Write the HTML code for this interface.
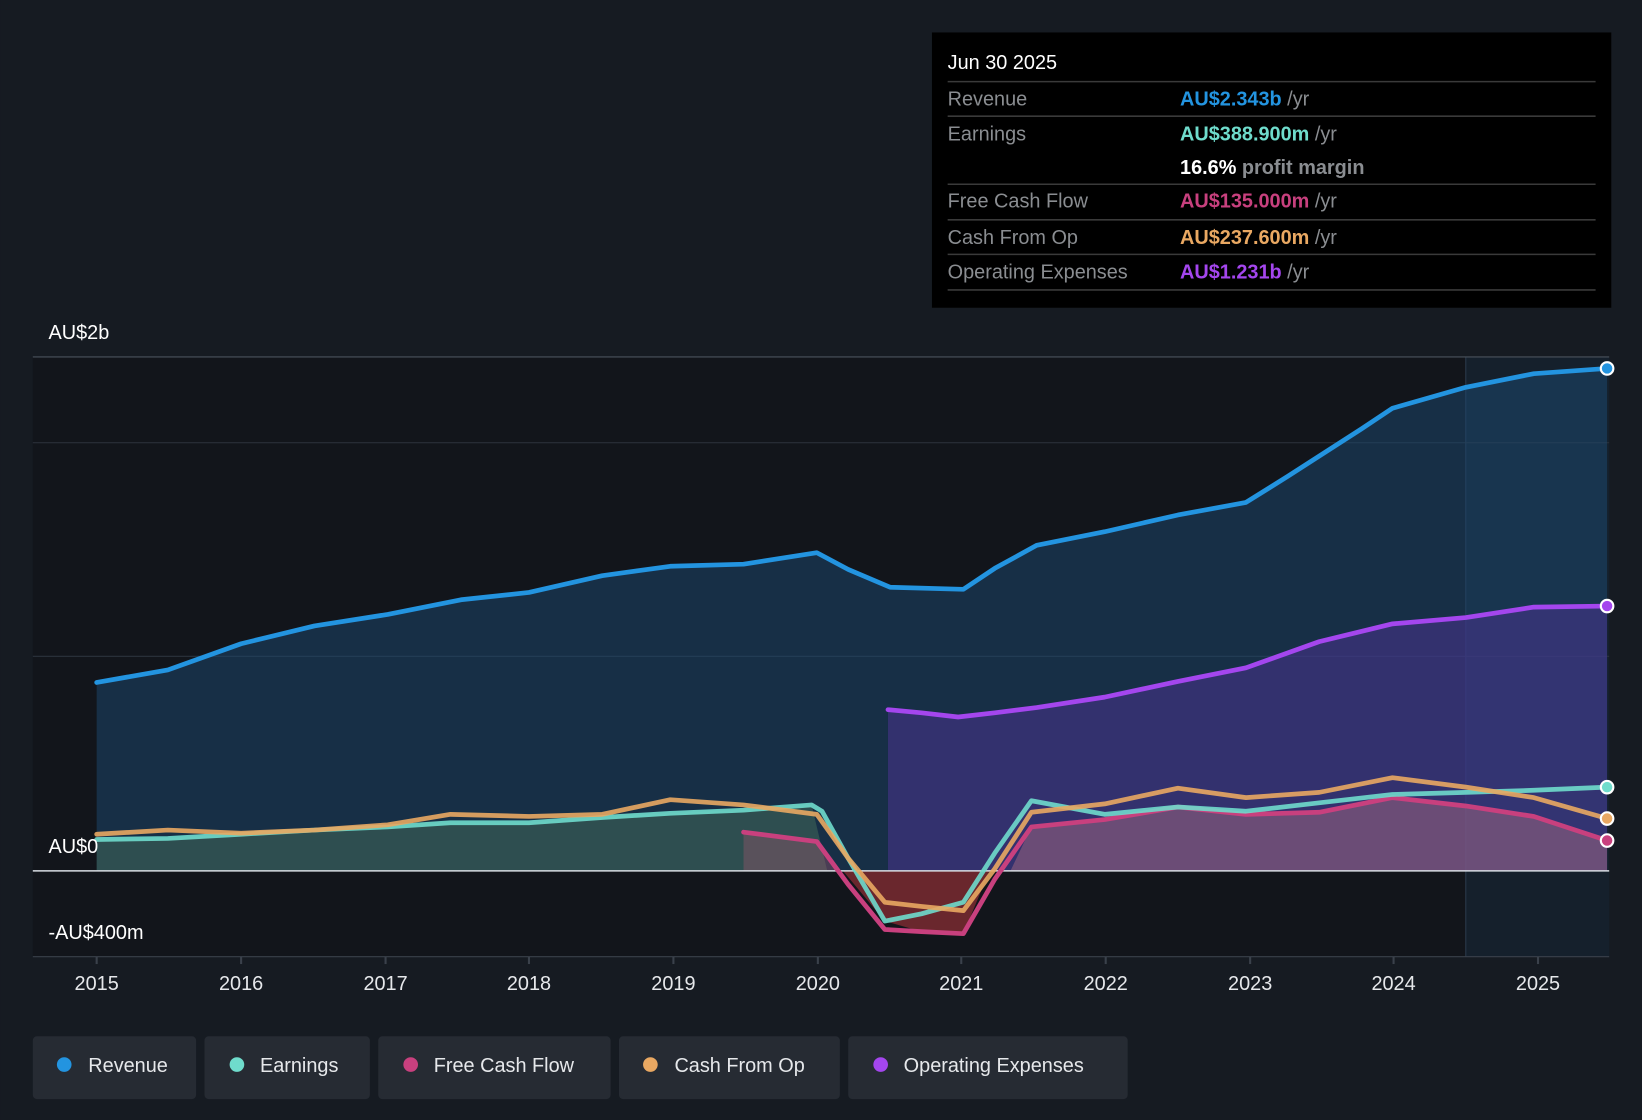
<!DOCTYPE html>
<html><head><meta charset="utf-8"><style>
html,body{margin:0;padding:0;background:#161b22;}
svg{display:block;font-family:"Liberation Sans",sans-serif;}
</style></head><body>
<svg width="1642" height="1120" viewBox="0 0 1568 1070" xmlns="http://www.w3.org/2000/svg">
<rect width="1568" height="1070" fill="#161b22"/>
<rect x="31" y="341" width="1369" height="573" fill="#12151b"/>
<rect x="1400" y="341" width="137" height="573" fill="#15202c"/>
<line x1="1400" y1="341" x2="1400" y2="914" stroke="#2a3a4c" stroke-width="1"/>
<g stroke="#2c333d" stroke-width="1">
<line x1="31" y1="341" x2="1537" y2="341" stroke="#4a525c"/>
<line x1="31" y1="423" x2="1537" y2="423"/>
<line x1="31" y1="627" x2="1537" y2="627"/>
<line x1="31" y1="914" x2="1537" y2="914" stroke="#3a414b"/>
</g>
<polygon fill="#1b4a72" fill-opacity="0.5" points="92,832 92,652 160,640 230,615 300,598 370,587 440,573 505,566 575,550 640,541 710,539 780,528 810,544 850,561 920,563 950,543 990,521 1055,508 1125,492 1190,480 1230,455 1300,410 1330,390 1400,370 1465,357 1535,352 1535,832"/>
<polygon fill="#4a3390" fill-opacity="0.55" points="848,832 848,678 880,681 915,685 950,681 990,676 1055,666 1125,651 1190,638 1260,613 1330,596 1400,590 1465,580 1535,579 1535,832"/>
<polygon fill="#5a8a64" fill-opacity="0.35" points="92,832 92,802 160,801 230,797 300,793 370,790 430,786 505,786 575,781 640,777 710,774 775,769 790,832"/>
<polygon fill="#a85870" fill-opacity="0.35" points="710,832 710,795 780,804 800,832"/>
<polygon fill="#b06e80" fill-opacity="0.45" points="965,832 985,790 1055,783 1125,771 1190,778 1260,776 1330,762 1400,770 1465,780 1535,803 1535,832"/>
<polygon fill="#7a2a30" fill-opacity="0.85" points="805,832 845,880 880,890 920,892 945,832"/>
<line x1="31" y1="832" x2="1537" y2="832" stroke="#d8dde3" stroke-width="1.5"/>
<g fill="none" stroke-width="4.5" stroke-linejoin="round" stroke-linecap="round">
<polyline stroke="#2394e0" points="92,652 160,640 230,615 300,598 370,587 440,573 505,566 575,550 640,541 710,539 780,528 810,544 850,561 920,563 950,543 990,521 1055,508 1125,492 1190,480 1230,455 1300,410 1330,390 1400,370 1465,357 1535,352"/>
<polyline stroke="#a446ee" points="848,678 880,681 915,685 950,681 990,676 1055,666 1125,651 1190,638 1260,613 1330,596 1400,590 1465,580 1535,579"/>
<polyline stroke="#c8407e" points="710,795 780,804 810,845 845,888 880,890 920,892 950,840 985,790 1055,783 1125,771 1190,778 1260,776 1330,762 1400,770 1465,780 1535,803"/>
<polyline stroke="#6fdccc" stroke-opacity="0.9" points="92,802 160,801 230,797 300,793 370,790 430,786 505,786 575,781 640,777 710,774 775,769 785,775 810,820 845,880 880,873 920,862 950,815 985,765 1055,778 1125,771 1190,775 1260,767 1330,759 1400,757 1465,755 1535,752"/>
<polyline stroke="#e9a862" stroke-opacity="0.9" points="92,797 160,793 230,796 300,793 370,788 430,778 505,780 575,778 640,764 710,769 780,778 810,820 845,862 880,866 920,870 950,830 985,776 1055,768 1125,753 1190,762 1260,757 1330,743 1400,752 1465,762 1535,782"/>
</g>
<g stroke="#fff" stroke-width="2">
<circle cx="1535" cy="352" r="6" fill="#2394e0"/>
<circle cx="1535" cy="579" r="6" fill="#a446ee"/>
<circle cx="1535" cy="752" r="6" fill="#6fdccc"/>
<circle cx="1535" cy="782" r="6" fill="#e9a862"/>
<circle cx="1535" cy="803" r="6" fill="#c8407e"/>
</g>
<g fill="#fff" font-size="19">
<text x="46" y="324">AU$2b</text>
<text x="46" y="815">AU$0</text>
<text x="46" y="897">-AU$400m</text>
</g>
<g fill="#e6e8eb" font-size="19" text-anchor="middle">
<text x="92" y="946">2015</text><text x="230" y="946">2016</text><text x="368" y="946">2017</text>
<text x="505" y="946">2018</text><text x="643" y="946">2019</text><text x="781" y="946">2020</text>
<text x="918" y="946">2021</text><text x="1056" y="946">2022</text><text x="1194" y="946">2023</text>
<text x="1331" y="946">2024</text><text x="1469" y="946">2025</text>
</g>
<g stroke="#3a414b" stroke-width="2">
<line x1="92" y1="914" x2="92" y2="921"/><line x1="230" y1="914" x2="230" y2="921"/><line x1="368" y1="914" x2="368" y2="921"/>
<line x1="505" y1="914" x2="505" y2="921"/><line x1="643" y1="914" x2="643" y2="921"/><line x1="781" y1="914" x2="781" y2="921"/>
<line x1="918" y1="914" x2="918" y2="921"/><line x1="1056" y1="914" x2="1056" y2="921"/><line x1="1194" y1="914" x2="1194" y2="921"/>
<line x1="1331" y1="914" x2="1331" y2="921"/><line x1="1469" y1="914" x2="1469" y2="921"/>
</g>
<rect x="890" y="31" width="649" height="263" fill="#000"/>
<g stroke="#3a3a3a" stroke-width="1.5">
<line x1="905" y1="78" x2="1524" y2="78"/><line x1="905" y1="111" x2="1524" y2="111"/>
<line x1="905" y1="176" x2="1524" y2="176"/><line x1="905" y1="210" x2="1524" y2="210"/>
<line x1="905" y1="243" x2="1524" y2="243"/><line x1="905" y1="277" x2="1524" y2="277"/>
</g>
<g font-size="19">
<text x="905" y="66" fill="#fff">Jun 30 2025</text>
<text x="905" y="101" fill="#8a8d91">Revenue</text>
<text x="905" y="134" fill="#8a8d91">Earnings</text>
<text x="905" y="198" fill="#8a8d91">Free Cash Flow</text>
<text x="905" y="233" fill="#8a8d91">Cash From Op</text>
<text x="905" y="266" fill="#8a8d91">Operating Expenses</text>
<text x="1127" y="101" font-weight="bold"><tspan fill="#2394e0">AU$2.343b</tspan><tspan fill="#8a8d91" font-weight="normal"> /yr</tspan></text>
<text x="1127" y="134" font-weight="bold"><tspan fill="#6fdccc">AU$388.900m</tspan><tspan fill="#8a8d91" font-weight="normal"> /yr</tspan></text>
<text x="1127" y="166" font-weight="bold"><tspan fill="#fff">16.6%</tspan><tspan fill="#8a8d91"> profit margin</tspan></text>
<text x="1127" y="198" font-weight="bold"><tspan fill="#c8407e">AU$135.000m</tspan><tspan fill="#8a8d91" font-weight="normal"> /yr</tspan></text>
<text x="1127" y="233" font-weight="bold"><tspan fill="#e9a862">AU$237.600m</tspan><tspan fill="#8a8d91" font-weight="normal"> /yr</tspan></text>
<text x="1127" y="266" font-weight="bold"><tspan fill="#a446ee">AU$1.231b</tspan><tspan fill="#8a8d91" font-weight="normal"> /yr</tspan></text>
</g>
<g font-size="19" fill="#e6e8eb">
<rect x="31" y="990" width="156" height="60" rx="4" fill="#262b33"/>
<circle cx="61" cy="1017" r="7" fill="#2394e0"/><text x="84" y="1024">Revenue</text>
<rect x="195" y="990" width="158" height="60" rx="4" fill="#262b33"/>
<circle cx="226" cy="1017" r="7" fill="#6fdccc"/><text x="248" y="1024">Earnings</text>
<rect x="361" y="990" width="222" height="60" rx="4" fill="#262b33"/>
<circle cx="392" cy="1017" r="7" fill="#c8407e"/><text x="414" y="1024">Free Cash Flow</text>
<rect x="591" y="990" width="211" height="60" rx="4" fill="#262b33"/>
<circle cx="621" cy="1017" r="7" fill="#e9a862"/><text x="644" y="1024">Cash From Op</text>
<rect x="810" y="990" width="267" height="60" rx="4" fill="#262b33"/>
<circle cx="841" cy="1017" r="7" fill="#a446ee"/><text x="863" y="1024">Operating Expenses</text>
</g>
</svg>
</body></html>
